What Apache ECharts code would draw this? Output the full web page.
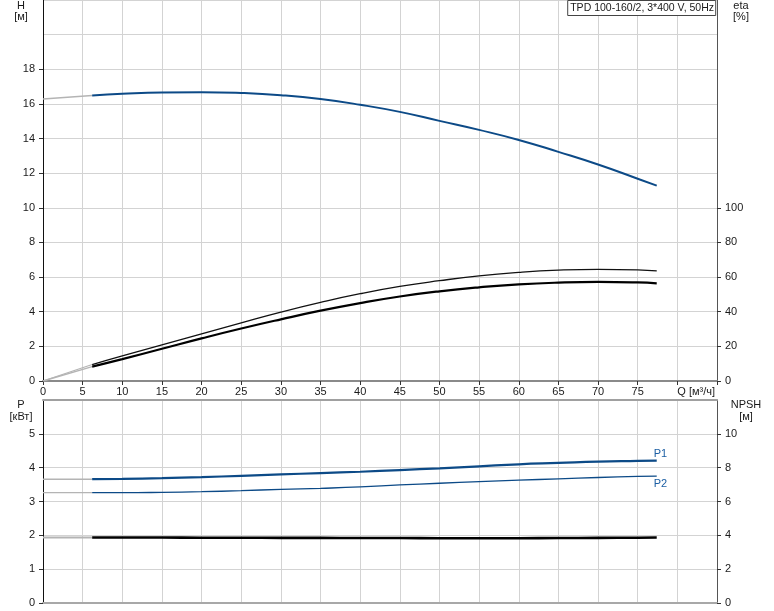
<!DOCTYPE html>
<html>
<head>
<meta charset="utf-8">
<script src="https://cdn.jsdelivr.net/npm/echarts@6.0.0/dist/echarts.min.js"></script>
<style>
html,body{margin:0;padding:0;background:#fff;}
#chart{width:774px;height:611px;}
</style>
</head>
<body>
<div id="chart"></div>
<script>
// ---- data ----
const TITLE = 'TPD 100-160/2, 3*400 V, 50Hz';
const Q_EXT = [0, 6.2];
const Q = [6.2, 10, 15, 20, 25, 30, 35, 40, 45, 50, 55, 60, 65, 70, 75, 77.4];
const H_EXT = [16.28, 16.49];
const H = [16.49, 16.58, 16.66, 16.68, 16.63, 16.50, 16.28, 15.95, 15.54, 15.02, 14.50, 13.92, 13.23, 12.50, 11.68, 11.28];
const ETA1_EXT = [0, 9.5];
const ETA1 = [9.5, 14.5, 20.8, 27.2, 33.6, 39.8, 45.4, 50.4, 54.6, 57.9, 60.7, 62.7, 64.0, 64.5, 64.2, 63.6];
const ETA2_EXT = [0, 8.3];
const ETA2 = [8.3, 12.6, 18.6, 24.6, 30.3, 35.6, 40.6, 45.0, 48.8, 51.8, 54.1, 55.8, 56.8, 57.2, 56.9, 56.4];
const P1_EXT = [3.66, 3.66];
const P1 = [3.66, 3.67, 3.69, 3.72, 3.76, 3.80, 3.84, 3.88, 3.93, 3.98, 4.04, 4.10, 4.14, 4.18, 4.20, 4.21];
const P2_EXT = [3.26, 3.26];
const P2 = [3.26, 3.26, 3.27, 3.29, 3.32, 3.36, 3.39, 3.43, 3.49, 3.54, 3.59, 3.63, 3.67, 3.71, 3.74, 3.75];
const NPSH_EXT = [3.87, 3.87];
const NPSH = [3.87, 3.87, 3.87, 3.86, 3.86, 3.85, 3.85, 3.84, 3.84, 3.83, 3.83, 3.83, 3.84, 3.85, 3.86, 3.87];
const H_TICKS = [0, 2, 4, 6, 8, 10, 12, 14, 16, 18];
const ETA_TICKS = [0, 20, 40, 60, 80, 100];
const P_TICKS = [0, 1, 2, 3, 4, 5];
const NPSH_TICKS = [0, 2, 4, 6, 8, 10];
const Q_LABEL = 'Q [м³/ч]';

// ---- helpers ----
const zip = (xs, ys) => xs.map((x, i) => [x, ys[i]]);
const FONT = 'Liberation Sans, Arial, sans-serif';
const TXT = '#1a1a1a';
const GRID_C = '#d3d3d3';
const BLUE = '#0c4a87';
const EXT_C = '#b4b4b4';

const chart = echarts.init(document.getElementById('chart'), null, {renderer: 'canvas'});

function labelAxis(gridIndex, pos, max, interval, ticks, lineColor) {
  return {
    type: 'value', gridIndex, position: pos, min: 0, max, interval,
    axisLine: {show: true, onZero: false, lineStyle: {color: lineColor, width: 1}},
    axisTick: {show: true, length: 4, customValues: ticks, lineStyle: {color: '#333'}},
    axisLabel: {show: true, customValues: ticks, margin: 8, color: TXT, fontSize: 11, fontFamily: FONT},
    splitLine: {show: false}
  };
}
function gridAxis(gridIndex, max, interval) {
  return {
    type: 'value', gridIndex, position: 'left', min: 0, max, interval,
    axisLine: {show: false}, axisTick: {show: false}, axisLabel: {show: false},
    splitLine: {show: true, lineStyle: {color: GRID_C, width: 1}}
  };
}
function line(name, data, xi, yi, color, width, z, extra) {
  return Object.assign({
    name, type: 'line', data, xAxisIndex: xi, yAxisIndex: yi, smooth: true,
    showSymbol: false, symbol: 'none', silent: true, z,
    lineStyle: {color, width}
  }, extra || {});
}
function txt(x, y, s) {
  return {type: 'text', x, y, style: {text: s, textAlign: 'center', textVerticalAlign: 'middle', fill: TXT, font: '11px ' + FONT}};
}

const option = {
  animation: false,
  backgroundColor: '#fff',
  textStyle: {fontFamily: FONT},
  title: {
    text: TITLE, right: 58, top: 0,
    padding: [3, 2, 2, 3],
    borderColor: '#444', borderWidth: 1, backgroundColor: '#fff',
    textStyle: {fontSize: 10.5, fontWeight: 'normal', color: TXT, fontFamily: FONT}
  },
  grid: [
    {left: 43, right: 57, top: 0, bottom: 230},
    {left: 43, right: 57, top: 400, bottom: 8}
  ],
  xAxis: [
    { // top panel main x axis
      type: 'value', gridIndex: 0, min: 0, max: 85, interval: 5,
      axisLine: {show: true, onZero: false, lineStyle: {color: '#8a8a8a', width: 2}},
      axisTick: {show: true, length: 4, lineStyle: {color: '#333'}},
      axisLabel: {show: true, margin: 5, color: TXT, fontSize: 11, fontFamily: FONT,
        formatter: v => (v >= 80 ? '' : String(v))},
      splitLine: {show: true, lineStyle: {color: GRID_C, width: 1}}
    },
    { // Q label at 80
      type: 'value', gridIndex: 0, min: 0, max: 85, position: 'bottom',
      axisLine: {show: false}, axisTick: {show: false}, splitLine: {show: false},
      axisLabel: {show: true, customValues: [80], align: 'left', margin: 5, color: TXT, fontSize: 11,
        fontFamily: FONT, formatter: () => Q_LABEL}
    },
    { // bottom panel x axis (bottom line + vertical grid)
      type: 'value', gridIndex: 1, min: 0, max: 85, interval: 5, position: 'bottom',
      axisLine: {show: true, onZero: false, lineStyle: {color: '#a8a8a8', width: 2}},
      axisTick: {show: false}, axisLabel: {show: false},
      splitLine: {show: true, lineStyle: {color: GRID_C, width: 1}}
    },
    { // bottom panel top border
      type: 'value', gridIndex: 1, min: 0, max: 85, position: 'top',
      axisLine: {show: true, onZero: false, lineStyle: {color: '#a0a0a0', width: 2}},
      axisTick: {show: false}, axisLabel: {show: false}, splitLine: {show: false}
    }
  ],
  yAxis: [
    gridAxis(0, 22, 2),                                   // 0 grid lines top
    labelAxis(0, 'left', 22, 2, H_TICKS, '#111'),          // 1 H
    labelAxis(0, 'right', 220, 20, ETA_TICKS, '#555'),     // 2 eta
    gridAxis(1, 6, 1),                                    // 3 grid lines bottom
    labelAxis(1, 'left', 6, 1, P_TICKS, '#111'),           // 4 P
    labelAxis(1, 'right', 12, 2, NPSH_TICKS, '#555')       // 5 NPSH
  ],
  graphic: [
    txt(21, 6, 'H'), txt(21, 17, '[м]'),
    txt(741, 6, 'eta'), txt(741, 17, '[%]'),
    txt(21, 405, 'P'), txt(21, 417, '[кВт]'),
    txt(746, 405, 'NPSH'), txt(746, 417, '[м]')
  ],
  series: [
    line('H ext', zip(Q_EXT, H_EXT), 0, 1, EXT_C, 1.5, 3),
    line('eta1 ext', zip(Q_EXT, ETA1_EXT), 0, 2, EXT_C, 1.2, 3),
    line('eta2 ext', zip(Q_EXT, ETA2_EXT), 0, 2, EXT_C, 1.5, 3),
    line('P1 ext', zip(Q_EXT, P1_EXT), 2, 4, EXT_C, 1.5, 3),
    line('P2 ext', zip(Q_EXT, P2_EXT), 2, 4, EXT_C, 1.2, 3),
    line('NPSH ext', zip(Q_EXT, NPSH_EXT), 2, 5, EXT_C, 2, 3),
    line('H', zip(Q, H), 0, 1, BLUE, 2, 5),
    line('eta1', zip(Q, ETA1), 0, 2, '#111', 1.3, 5),
    line('eta2', zip(Q, ETA2), 0, 2, '#000', 2.2, 5),
    line('P1', zip(Q, P1), 2, 4, BLUE, 2.2, 5, {
      endLabel: {show: true, formatter: 'P1', offset: [-11, -7], color: '#1b5ea3', fontSize: 11, fontFamily: FONT}
    }),
    line('P2', zip(Q, P2), 2, 4, BLUE, 1.3, 5, {
      endLabel: {show: true, formatter: 'P2', offset: [-11, 8], color: '#1b5ea3', fontSize: 11, fontFamily: FONT}
    }),
    line('NPSH', zip(Q, NPSH), 2, 5, '#000', 2.6, 5)
  ]
};
chart.setOption(option);
</script>
</body>
</html>
